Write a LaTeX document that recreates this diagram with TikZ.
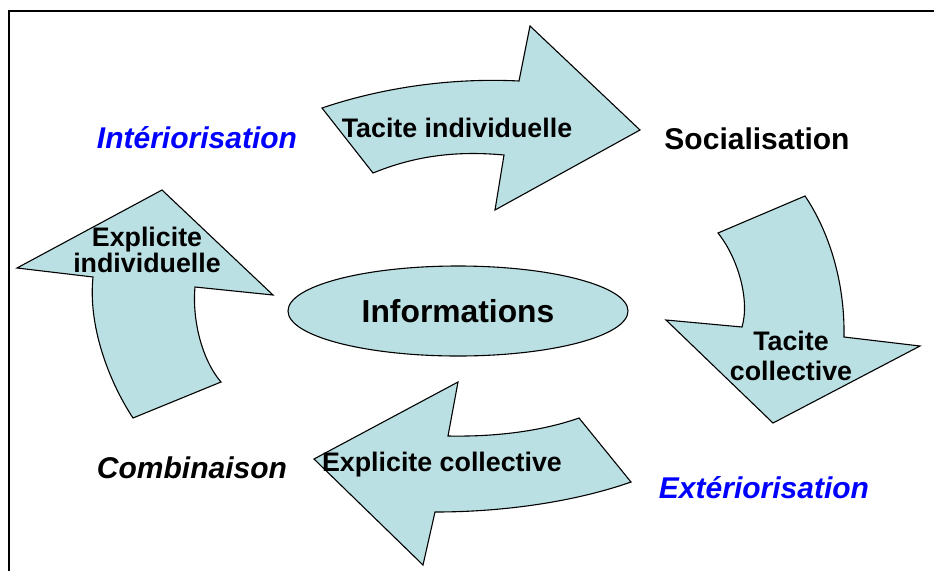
\documentclass[tikz,border=0pt]{standalone}
\usepackage{fontspec}
\setmainfont{Liberation Sans}
\usepackage{tikz}
\usetikzlibrary{shapes.geometric}
\definecolor{pale}{RGB}{187,224,227}

\begin{document}
\begin{tikzpicture}[x=1pt, y=-1pt, line width=1.1pt,
    flow/.style = {draw, fill=pale, line join=miter},
    arrowtext/.style = {font=\fontsize{26.8}{30}\selectfont\bfseries, align=center, inner sep=0pt},
    phase/.style = {font=\fontsize{30}{34}\selectfont\bfseries, inner sep=0pt},
    phaseit/.style = {phase, font=\fontsize{30}{34}\selectfont\bfseries\itshape},
    phaseblue/.style = {phaseit, text=blue}]
            \useasboundingbox (0,0) rectangle (934,571);
            \draw[line width=2pt] (9,571) -- (9,11) -- (934,11);

            % the four bent arrows
            \path[flow] (322,108) .. controls (390,85) and (460,78) .. (519,81) -- (530,26) -- (640,130)
                -- (495,210) -- (504,155) .. controls (450,150) and (410,158) .. (373,173) -- cycle;
            \path[flow] (718,233) -- (805,196) .. controls (828,230) and (845,280) .. (844,337) -- (920,346)
                -- (773,423) -- (666,320) -- (742,327) .. controls (750,300) and (738,258) .. (718,233) -- cycle;
            \path[flow] (314,459) -- (458,382) -- (448,436) .. controls (500,437) and (545,430) .. (579,418)
                -- (631,482) .. controls (580,500) and (510,512) .. (435,512) -- (423,565) -- cycle;
            \path[flow] (162,190) -- (273,295) -- (195,287) .. controls (192,320) and (202,360) .. (221,382)
                -- (133,418) .. controls (108,380) and (88,325) .. (93,277) -- (17,268) -- cycle;

            \node[flow, ellipse, minimum width=340pt, minimum height=90pt, inner sep=0pt,
                font=\fontsize{31.8}{34}\selectfont\bfseries] (info) at (458,311) {Informations};

            \node[arrowtext] (ti) at (457,128) {Tacite individuelle};
            \node[arrowtext] (tc) at (791,356) {Tacite\\collective};
            \node[arrowtext] (ec) at (442,465) {Explicite collective};
            \node[arrowtext, font=\fontsize{26.8}{26}\selectfont\bfseries] (ei) at (147,250) {Explicite\\individuelle};

            \node[phaseblue] (int) at (197,138) {Intériorisation};
            \node[phase] (soc) at (757,139) {Socialisation};
            \node[phaseblue] (ext) at (764,488) {Extériorisation};
            \node[phaseit] (comb) at (192,468) {Combinaison};
        \end{tikzpicture}
\end{document}
